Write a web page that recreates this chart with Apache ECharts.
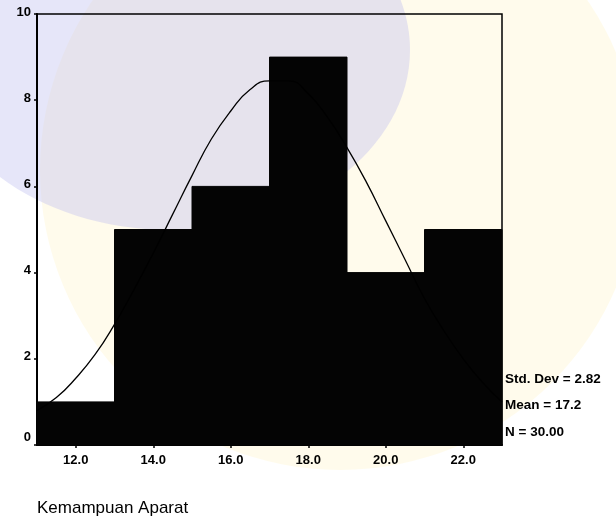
<!DOCTYPE html>
<html>
<head>
<meta charset="utf-8">
<script src="https://cdn.jsdelivr.net/npm/echarts@6/dist/echarts.min.js"></script>
<style>html,body{margin:0;padding:0;background:#fff;}#c{width:616px;height:520px;}</style>
</head>
<body>
<div id="c"></div>
<script>
// Histogram bins (lower edge, upper edge) and frequencies
const binStart = [11, 13, 15, 17, 19, 21];
const binEnd   = [13, 15, 17, 19, 21, 23];
const counts   = [1, 5, 6, 9, 4, 5];
// Tick labels
const xTicks = [12, 14, 16, 18, 20, 22];
const yTicks = [0, 2, 4, 6, 8, 10];
// Normal curve points
const curveX = [11, 11.5, 12, 12.5, 13, 13.5, 14, 14.5, 15, 15.5, 16, 16.5, 17, 17.5, 18, 18.5, 19, 19.5, 20, 20.5, 21, 21.5, 22, 22.5, 23];
const curveY = [0.8, 1.1, 1.55, 2.1, 2.8, 3.6, 4.45, 5.35, 6.25, 7.1, 7.75, 8.25, 8.45, 8.45, 8.15, 7.6, 6.9, 6.1, 5.2, 4.3, 3.4, 2.65, 2.0, 1.45, 1.0];
// Statistics text
const statLines = ['Std. Dev = 2.82', 'Mean = 17.2', 'N = 30.00'];
const axisTitle = 'Kemampuan Aparat';

const chart = echarts.init(document.getElementById('c'), null, {renderer: 'canvas'});
const font = '"Liberation Sans", Arial, sans-serif';

chart.setOption({
  animation: false,
  backgroundColor: '#ffffff',
  grid: {left: 37, right: 114, top: 14, bottom: 75, show: true, borderColor: '#000', borderWidth: 1.5, backgroundColor: 'transparent'},
  xAxis: {
    type: 'value', min: 11, max: 23,
    splitLine: {show: false},
    axisLine: {show: true, lineStyle: {color: '#000', width: 2}},
    axisTick: {show: true, length: 3, lineStyle: {color: '#000', width: 1.5}, customValues: xTicks},
    axisLabel: {customValues: xTicks, formatter: v => v.toFixed(1), color: '#000', fontFamily: font, fontWeight: 'bold', fontSize: 13, margin: 9}
  },
  yAxis: {
    type: 'value', min: 0, max: 10, interval: 2,
    splitLine: {show: false},
    axisLine: {show: true, lineStyle: {color: '#000', width: 2}},
    axisTick: {show: true, length: 3, lineStyle: {color: '#000', width: 1.5}, customValues: yTicks},
    axisLabel: {
      customValues: yTicks,
      formatter: v => v === 0 ? '{z|0}' : '{n|' + v + '}',
      color: '#000', fontFamily: font, fontWeight: 'bold', fontSize: 13, margin: 6,
      rich: {
        z: {fontFamily: font, fontWeight: 'bold', fontSize: 13, color: '#000', padding: [0, 0, 16, 0]},
        n: {fontFamily: font, fontWeight: 'bold', fontSize: 13, color: '#000', padding: [0, 0, 4, 0]}
      }
    }
  },
  graphic: [
    {type: 'circle', z: -10, silent: true, shape: {cx: 340, cy: 170, r: 300}, style: {fill: 'rgba(255,238,170,0.22)'}},
    {type: 'ellipse', z: -9, silent: true, shape: {cx: 170, cy: 50, rx: 240, ry: 180}, style: {fill: 'rgba(190,190,240,0.38)'}},
    {type: 'text', left: 505, top: 372, style: {text: statLines[0], font: 'bold 13.5px ' + font, fill: '#000'}},
    {type: 'text', left: 505, top: 398, style: {text: statLines[1], font: 'bold 13.5px ' + font, fill: '#000'}},
    {type: 'text', left: 505, top: 425, style: {text: statLines[2], font: 'bold 13.5px ' + font, fill: '#000'}},
    {type: 'text', left: 37, top: 500, style: {text: axisTitle, font: '17px ' + font, fill: '#000'}}
  ],
  series: [
    {
      type: 'custom',
      data: binStart.map((s, i) => [s, binEnd[i], counts[i]]),
      encode: {x: [0, 1], y: 2},
      z: 2,
      renderItem: function (params, api) {
        const p0 = api.coord([api.value(0), 0]);
        const p1 = api.coord([api.value(1), api.value(2)]);
        return {type: 'rect', shape: {x: p0[0], y: p1[1], width: p1[0] - p0[0], height: p0[1] - p1[1]}, style: {fill: '#040404', stroke: '#040404', lineWidth: 1}};
      }
    },
    {
      type: 'line',
      data: curveX.map((x, i) => [x, curveY[i]]),
      smooth: true,
      showSymbol: false,
      z: 3,
      lineStyle: {color: '#000', width: 1.3}
    }
  ]
});
</script>
</body>
</html>
